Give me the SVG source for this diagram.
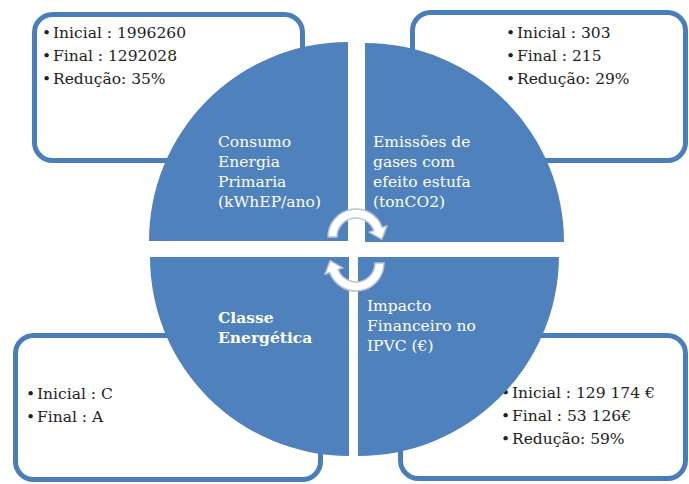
<svg xmlns="http://www.w3.org/2000/svg" width="689" height="484" viewBox="0 0 689 484">
  <style>
    .box { fill: #ffffff; stroke: #4a7ebb; stroke-width: 5; }
    .quad { fill: #4f81bd; }
    .txt { font-family: "DejaVu Serif", "Liberation Serif", serif; font-size: 15.5px; fill: #222222; }
    .lbl { font-family: "DejaVu Serif", "Liberation Serif", serif; font-size: 15.5px; fill: #ffffff; }
    .bold { font-weight: bold; }
    .cyc { fill: #ffffff; stroke: #b9c3d4; stroke-width: 1.5; stroke-linejoin: round; }
  </style>
  <rect width="689" height="484" fill="#ffffff"/>

  <!-- detail boxes (drawn first, the pie sits over them) -->
  <g id="box-energia">
    <rect class="box" x="34.5" y="14.5" width="268" height="146" rx="18"/>
    <text class="txt"><tspan x="42" y="38">•</tspan><tspan x="53" y="38">Inicial : 1996260</tspan></text>
    <text class="txt"><tspan x="42" y="61">•</tspan><tspan x="53" y="61">Final : 1292028</tspan></text>
    <text class="txt"><tspan x="42" y="84">•</tspan><tspan x="53" y="84">Redução: 35%</tspan></text>
  </g>
  <g id="box-emissoes">
    <rect class="box" x="412.5" y="12.5" width="273" height="148" rx="18"/>
    <text class="txt"><tspan x="506" y="38">•</tspan><tspan x="517" y="38">Inicial : 303</tspan></text>
    <text class="txt"><tspan x="506" y="61">•</tspan><tspan x="517" y="61">Final : 215</tspan></text>
    <text class="txt"><tspan x="506" y="84">•</tspan><tspan x="517" y="84">Redução: 29%</tspan></text>
  </g>
  <g id="box-classe">
    <rect class="box" x="15.5" y="335.5" width="305" height="144" rx="18"/>
    <text class="txt"><tspan x="26" y="399">•</tspan><tspan x="37" y="399">Inicial : C</tspan></text>
    <text class="txt"><tspan x="26" y="422">•</tspan><tspan x="37" y="422">Final : A</tspan></text>
  </g>
  <g id="box-impacto">
    <rect class="box" x="400.5" y="335.5" width="285" height="143" rx="18"/>
    <text class="txt"><tspan x="501" y="398">•</tspan><tspan x="512" y="398">Inicial : 129 174 €</tspan></text>
    <text class="txt"><tspan x="501" y="421">•</tspan><tspan x="512" y="421">Final : 53 126€</tspan></text>
    <text class="txt"><tspan x="501" y="444">•</tspan><tspan x="512" y="444">Redução: 59%</tspan></text>
  </g>

  <!-- pie quadrants -->
  <g id="q-energia">
    <path class="quad" d="M348,241 L149,241 A199,199 0 0 1 348,42 Z"/>
    <text class="lbl"><tspan x="218" y="147">Consumo</tspan><tspan x="218" y="167">Energia</tspan><tspan x="218" y="187">Primaria</tspan><tspan x="218" y="207">(kWhEP/ano)</tspan></text>
  </g>
  <g id="q-emissoes">
    <path class="quad" d="M365,242 L365,43 A199,199 0 0 1 564,242 Z"/>
    <text class="lbl"><tspan x="373" y="147">Emissões de</tspan><tspan x="373" y="167">gases com</tspan><tspan x="373" y="187">efeito estufa</tspan><tspan x="373" y="207">(tonCO2)</tspan></text>
  </g>
  <g id="q-classe">
    <path class="quad" d="M349,257 L349,456 A199,199 0 0 1 150,257 Z"/>
    <text class="lbl bold"><tspan x="218" y="323">Classe</tspan><tspan x="218" y="343">Energética</tspan></text>
  </g>
  <g id="q-impacto">
    <path class="quad" d="M358,257 L559,257 A201,201 0 0 1 358,456 Z"/>
    <text class="lbl"><tspan x="367" y="311">Impacto</tspan><tspan x="367" y="331">Financeiro no</tspan><tspan x="367" y="351">IPVC (€)</tspan></text>
  </g>

  <!-- cycle arrows in the centre -->
  <g id="connectors">
    <path class="cyc" d="M328,237 A28,28 0 0 1 382.31,227.42 L387.01,225.71 L381.84,239.3 L369.16,232.21 L373.85,230.5 A19,19 0 0 0 337,237 Z"/>
    <path class="cyc" d="M384,263 A28,28 0 0 1 329.69,272.58 L324.99,274.29 L330.16,260.7 L342.84,267.79 L338.15,269.5 A19,19 0 0 0 375,263 Z"/>
  </g>
</svg>
